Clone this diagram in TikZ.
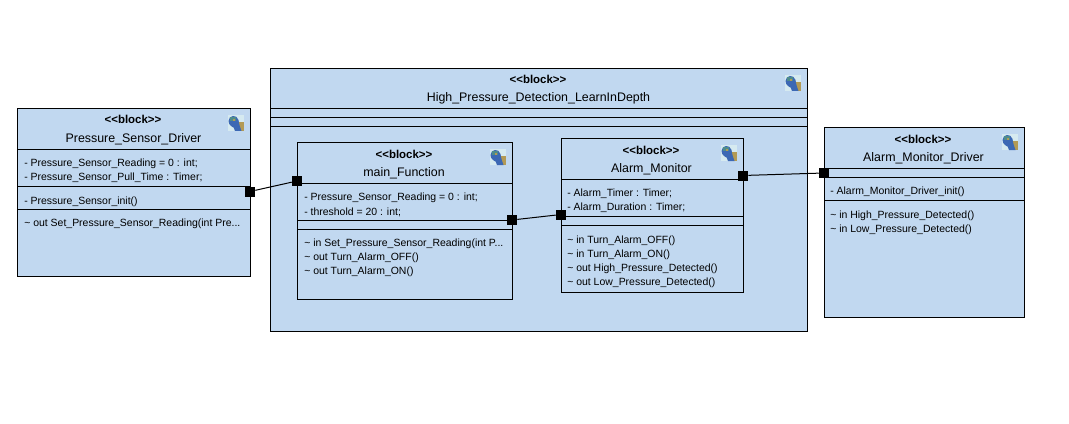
\documentclass[tikz,border=0pt]{standalone}
\usepackage{fontspec}
\setmainfont{Liberation Sans}
\definecolor{blockblue}{HTML}{C1D8F0}
\definecolor{iconback}{HTML}{D6EAF0}
\definecolor{iconbody}{HTML}{3C68B4}
\definecolor{icontail}{HTML}{B39A55}
\definecolor{iconhead}{HTML}{4E8C8C}
\tikzset{
  blockicon/.pic = {
    \fill[iconback] (0,0) rectangle (16,16);
    \fill[icontail] (11,7) rectangle (16,16);
    \fill[iconbody] (0.5,6) .. controls (0.5,0) and (9,-1) .. (10.5,5)
      .. controls (11,9) and (12,12) .. (13.5,16) -- (7,16)
      .. controls (7,13) and (5,12) .. (3,11) .. controls (1.5,10) and (0.5,8) .. (0.5,6) -- cycle;
    \fill[iconhead] (2,2) rectangle (8,6);
    \fill[icontail] (5,4) rectangle (7,6);
  }
}
\begin{document}
\begin{tikzpicture}[x=0.75pt,y=-0.75pt,
    mblock/.style = {shape = rectangle,
                     draw = black,
                     fill = blockblue,
                     line width = 0.75pt,
                     inner sep = 0pt,
                     outer sep = 0pt},
    mport/.style = {shape = rectangle,
                    fill = black,
                    inner sep = 0pt,
                    minimum size = 7.5pt},
    mstereo/.style = {font = \fontsize{8.6pt}{10pt}\selectfont\bfseries, inner sep = 0pt},
    mname/.style = {font = \fontsize{9.3pt}{11pt}\selectfont, inner sep = 0pt, yshift = -0.5pt},
    mtext/.style = {font = \fontsize{7.85pt}{9pt}\selectfont, inner sep = 0pt, anchor = west, yshift = -0.75pt},
    mline/.style = {line width = 0.75pt},
    mwire/.style = {line width = 0.75pt}]
    \useasboundingbox (0,0) rectangle (1069,424);
    % outer blocks
    \node[mblock, minimum width = 174.75pt, minimum height = 126pt] (drv) at (134,192.5) {};
    \node[mblock, minimum width = 402.75pt, minimum height = 197.25pt] (hpd) at (539,200) {};
    \node[mblock, minimum width = 150pt, minimum height = 142.5pt] (alm) at (924.5,222.5) {};
    % inner blocks
    \node[mblock, minimum width = 161.25pt, minimum height = 117.75pt] (mfn) at (405,221) {};
    \node[mblock, minimum width = 136.5pt, minimum height = 115.5pt] (mon) at (652.5,215.5) {};
    % compartments
    \foreach \yy in {149.5,186.5,209.5}
      \draw[mline] (drv.west |- 0,\yy) -- (drv.east |- 0,\yy);
    \foreach \yy in {108.5,117.5,126.5}
      \draw[mline] (hpd.west |- 0,\yy) -- (hpd.east |- 0,\yy);
    \foreach \yy in {183.5,220.5,229.5}
      \draw[mline] (mfn.west |- 0,\yy) -- (mfn.east |- 0,\yy);
    \foreach \yy in {179.5,216.5,225.5}
      \draw[mline] (mon.west |- 0,\yy) -- (mon.east |- 0,\yy);
    \foreach \yy in {168.5,177.5,200.5}
      \draw[mline] (alm.west |- 0,\yy) -- (alm.east |- 0,\yy);
    % icons
    \pic at (228,115) {blockicon};
    \pic at (785,75) {blockicon};
    \pic at (490,149) {blockicon};
    \pic at (721,145) {blockicon};
    \pic at (1002,134) {blockicon};
    % Pressure_Sensor_Driver
    \node[mstereo] (drvs) at (133,119.5) {<{}<block>{}>};
    \node[mname] (drvn) at (133.5,138.5) {Pressure\_Sensor\_Driver};
    \node[mtext] (drv1) at (24,163) {- Pressure\_Sensor\_Reading = 0 : int;};
    \node[mtext] (drv2) at (24,177) {- Pressure\_Sensor\_Pull\_Time : Timer;};
    \node[mtext] (drv3) at (24,200.5) {- Pressure\_Sensor\_init()};
    \node[mtext] (drv4) at (24,223) {\char`\~{} out Set\_Pressure\_Sensor\_Reading(int Pre...};
    % High_Pressure_Detection_LearnInDepth
    \node[mstereo] (hpds) at (538,79.5) {<{}<block>{}>};
    \node[mname] (hpdn) at (538.5,98) {High\_Pressure\_Detection\_LearnInDepth};
    % main_Function
    \node[mstereo] (mfns) at (404,154) {<{}<block>{}>};
    \node[mname] (mfnn) at (404,172.5) {main\_Function};
    \node[mtext] (mfn1) at (304,197) {- Pressure\_Sensor\_Reading = 0 : int;};
    \node[mtext] (mfn2) at (304,211) {- threshold = 20 : int;};
    \node[mtext] (mfn3) at (304,243) {\char`\~{} in Set\_Pressure\_Sensor\_Reading(int P...};
    \node[mtext] (mfn4) at (304,257) {\char`\~{} out Turn\_Alarm\_OFF()};
    \node[mtext] (mfn5) at (304,271) {\char`\~{} out Turn\_Alarm\_ON()};
    % Alarm_Monitor
    \node[mstereo] (mons) at (651,150) {<{}<block>{}>};
    \node[mname] (monn) at (651.5,169) {Alarm\_Monitor};
    \node[mtext] (mon1) at (567,193) {- Alarm\_Timer : Timer;};
    \node[mtext] (mon2) at (567,207) {- Alarm\_Duration : Timer;};
    \node[mtext] (mon3) at (567,239.5) {\char`\~{} in Turn\_Alarm\_OFF()};
    \node[mtext] (mon4) at (567,253.5) {\char`\~{} in Turn\_Alarm\_ON()};
    \node[mtext] (mon5) at (567,267.5) {\char`\~{} out High\_Pressure\_Detected()};
    \node[mtext] (mon6) at (567,281.5) {\char`\~{} out Low\_Pressure\_Detected()};
    % Alarm_Monitor_Driver
    \node[mstereo] (alms) at (923,139) {<{}<block>{}>};
    \node[mname] (almn) at (923.5,158) {Alarm\_Monitor\_Driver};
    \node[mtext] (alm1) at (830,191) {- Alarm\_Monitor\_Driver\_init()};
    \node[mtext] (alm2) at (830,214.5) {\char`\~{} in High\_Pressure\_Detected()};
    \node[mtext] (alm3) at (830,228.5) {\char`\~{} in Low\_Pressure\_Detected()};
    % ports
    \node[mport] (p1) at (250,191.5) {};
    \node[mport] (p2) at (297,181) {};
    \node[mport] (p3) at (512,220) {};
    \node[mport] (p4) at (561,214.5) {};
    \node[mport] (p5) at (743,175.5) {};
    \node[mport] (p6) at (824,173) {};
    % connectors
    \draw[mwire] (p1) -- (p2);
    \draw[mwire] (p3) -- (p4);
    \draw[mwire] (p5) -- (p6);
\end{tikzpicture}
\end{document}
